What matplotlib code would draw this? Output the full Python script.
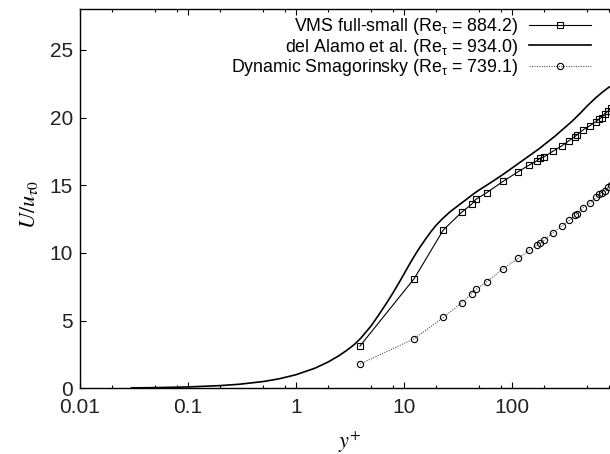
import matplotlib
matplotlib.use('Agg')
import matplotlib.pyplot as plt
from matplotlib.ticker import FixedLocator, FixedFormatter, NullFormatter

plt.rcParams['font.family'] = ['Liberation Sans', 'DejaVu Sans']

# del Alamo et al. DNS profile (y+, U/u_tau0)
dns_y = [0.03, 0.05, 0.1, 0.2, 0.3, 0.5, 0.7, 1, 1.5, 2, 2.5, 3, 3.5, 4, 5, 6, 7,
         8, 9, 10, 11, 12, 13, 14, 16, 18, 20, 23, 27, 32, 38, 45, 50, 60, 70, 85,
         100, 125, 150, 180, 212, 250, 300, 360, 430, 500, 600, 700, 800, 934]
dns_u = [0.03, 0.05, 0.1, 0.2, 0.3, 0.5, 0.7, 1.0, 1.48, 1.95, 2.4, 2.83, 3.25,
         3.7, 4.62, 5.54, 6.34, 7.08, 7.77, 8.41, 8.99, 9.51, 9.97, 10.37, 11.04,
         11.6, 12.05, 12.55, 13.05, 13.5, 13.95, 14.4, 14.65, 15.05, 15.4, 15.85,
         16.25, 16.8, 17.25, 17.7, 18.15, 18.6, 19.15, 19.7, 20.3, 20.85, 21.45,
         21.9, 22.25, 22.5]

# LES grid points (y+)
les_y = [3.93, 12.5, 23.3, 34.4, 42.6, 46.7, 58.7, 83.8, 115, 146, 171, 183, 200,
         240, 291, 342, 387, 406, 462, 532, 604, 648, 682, 733, 787, 840, 884]
vms_u = [3.12, 8.1, 11.7, 13.0, 13.6, 13.96, 14.45, 15.3, 16.0, 16.5, 16.8, 17.0,
         17.1, 17.5, 17.9, 18.3, 18.6, 18.75, 19.1, 19.4, 19.7, 19.9, 20.0, 20.3,
         20.5, 20.7, 20.8]
ds_u = [1.79, 3.66, 5.24, 6.31, 7.0, 7.3, 7.86, 8.85, 9.6, 10.2, 10.57, 10.74,
        10.94, 11.48, 11.97, 12.4, 12.78, 12.9, 13.35, 13.7, 14.1, 14.33, 14.45,
        14.6, 14.87, 15.05, 15.15]

labels = ['VMS full-small (Re$_\\mathregular{τ}$ = 884.2)',
          'del Alamo et al. (Re$_\\mathregular{τ}$ = 934.0)',
          'Dynamic Smagorinsky (Re$_\\mathregular{τ}$ = 739.1)']

xticks = [0.01, 0.1, 1, 10, 100, 1000]
xticklabels = ['0.01', '0.1', '1', '10', '100', '']
yticks = [0, 5, 10, 15, 20, 25]

fig = plt.figure(figsize=(6.10, 4.54), dpi=100)
ax = fig.add_axes([80 / 610, (454 - 388.3) / 454, (619.5 - 80) / 610, 379 / 454])

l1, = ax.plot(les_y, vms_u, color='black', lw=0.8, marker='s', ms=5,
              mfc='none', mec='black', mew=0.8, label=labels[0])
l2, = ax.plot(dns_y, dns_u, color='black', lw=1.2, label=labels[1])
l3, = ax.plot(les_y, ds_u, color='#555555', lw=0.8, ls=(0, (1, 1.2)), marker='o',
              ms=4.5, mfc='none', mec='black', mew=0.8, label=labels[2])

ax.set_xscale('log')
ax.set_xlim(0.01, 1000)
ax.set_ylim(0, 28)

ax.xaxis.set_major_locator(FixedLocator(xticks))
ax.xaxis.set_major_formatter(FixedFormatter(xticklabels))
minors = [m * 10.0 ** e for e in range(-2, 3) for m in (2, 5, 8)]
ax.xaxis.set_minor_locator(FixedLocator(minors))
ax.xaxis.set_minor_formatter(NullFormatter())
ax.set_yticks(yticks)
ax.set_yticklabels([str(v) for v in yticks])

ax.tick_params(axis='x', which='major', direction='in', length=4.5, width=0.8,
               top=True, labelsize=15, pad=7, colors='black', labelcolor='#222222')
ax.tick_params(axis='x', which='minor', direction='in', length=2.3, width=0.8,
               top=True)
ax.tick_params(axis='y', which='major', direction='in', length=4, width=0.8,
               labelsize=15, pad=5, labelcolor='#222222')
for s in ax.spines.values():
    s.set_linewidth(1.0)

ax.set_xlabel('$y^{+}$', fontsize=16, math_fontfamily='stix')
ax.set_ylabel('$U/u_{\\tau0}$', fontsize=16, math_fontfamily='stix')
ax.xaxis.set_label_coords(0.5, -0.11)
ax.yaxis.set_label_coords(-0.075, 0.484)

leg = ax.legend(handles=[l1, l2, l3], loc='upper right',
                bbox_to_anchor=(591 / 610, 1 - 16 / 454),
                bbox_transform=fig.transFigure, frameon=False, fontsize=12.8,
                markerfirst=False, handlelength=3.5, handletextpad=0.62,
                labelspacing=-0.02, borderpad=0, borderaxespad=0)

fig.savefig('out.png', dpi=100)
